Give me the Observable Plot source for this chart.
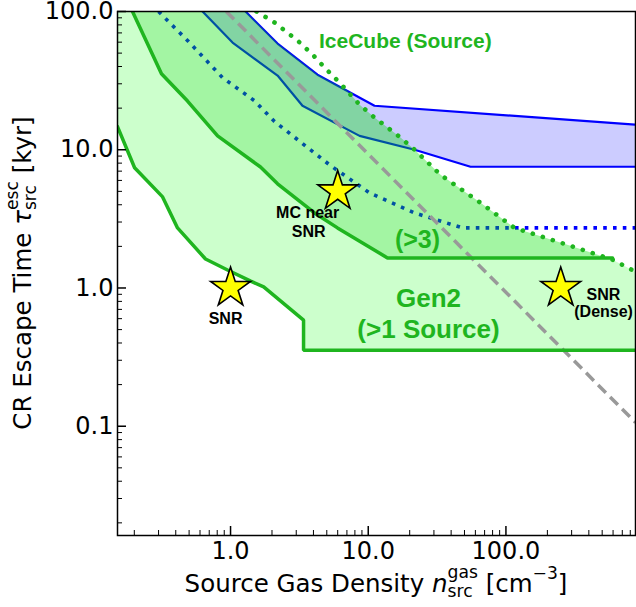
<!DOCTYPE html>
<html><head><meta charset="utf-8">
<script src="https://cdn.jsdelivr.net/npm/d3@7"></script>
<script src="https://cdn.jsdelivr.net/npm/@observablehq/plot@0.6"></script>
<style>body{margin:0;background:#fff} #chart{width:636px;height:607px}</style>
</head><body><div id="chart"></div>
<script>
// ---- data ----
const xDomain = [0.151, 873];
const yDomain = [0.0162, 100];
const xMajor = [1, 10, 100];
const yMajor = [0.1, 1, 10, 100];
const xMinor = [0.2,0.3,0.4,0.5,0.6,0.7,0.8,0.9, 2,3,4,5,6,7,8,9, 20,30,40,50,60,70,80,90, 200,300,400,500,600,700,800];
const yMinor = [0.02,0.03,0.04,0.05,0.06,0.07,0.08,0.09, 0.2,0.3,0.4,0.5,0.6,0.7,0.8,0.9, 2,3,4,5,6,7,8,9, 20,30,40,50,60,70,80,90];

// Gen2 (>1 Source) boundary
const gen2OneX = [0.151, 0.201, 0.321, 0.412, 0.658, 0.951, 1.40, 1.74, 3.39, 3.39, 873];
const gen2OneY = [14.7, 7.41, 4.56, 2.72, 1.62, 1.35, 1.12, 1.02, 0.586, 0.355, 0.355];
// Gen2 (>3) boundary
const gen2ThreeX = [0.194, 0.315, 0.487, 0.805, 1.65, 2.195, 4.07, 5.98, 13.8, 595];
const gen2ThreeY = [100, 35.5, 22.5, 12.6, 7.5, 5.67, 3.49, 2.72, 1.65, 1.65];
// IceCube (Source) dotted limit
const iceX = [1.545, 2.087, 3.066, 3.94, 4.9, 6.19, 8.65, 11.1, 16.9, 21.7, 33.5, 65.4, 115.5, 294, 595, 873];
const iceY = [100, 83.2, 61.6, 48.8, 38.6, 30.6, 21.2, 17.1, 12.4, 10.0, 6.59, 4.13, 2.72, 2.02, 1.60, 1.31];
// upper edge of the green regions
const topX = [1.285, 2.195, 4.28, 6.96, 8.65, 11.1, 16.9, 21.7, 33.5, 65.4, 115.5, 294, 595, 873];
const topY = [100, 58.6, 34.9, 27.2, 21.2, 17.1, 12.4, 10.0, 6.59, 4.13, 2.72, 2.02, 1.60, 1.31];
// blue band
const blueUpX = [1.285, 2.195, 4.28, 11.1, 873];
const blueUpY = [100, 58.6, 34.9, 20.8, 15.2];
const blueLoX = [0.626, 1.034, 2.195, 3.33, 8.65, 21.7, 55.3, 873];
const blueLoY = [100, 59.6, 34.4, 20.8, 12.6, 10.0, 7.53, 7.53];
// blue dotted
const blueDotX = [0.300, 0.495, 0.875, 1.493, 2.087, 5.23, 10.2, 21.7, 48.4, 873];
const blueDotY = [100, 60.6, 33.2, 22.6, 16.0, 7.78, 4.88, 3.49, 2.72, 2.72];
// gray dashed
const grayX = [0.93, 873];
const grayY = [100, 0.1065];
// stars
const starX = [1.0, 6.0, 250];
const starY = [1.0, 5.0, 1.0];
// green labels
const greenText = ["IceCube (Source)", "(>3)", "Gen2", "(>1 Source)"];
const greenTextX = [18.6, 22.8, 27.4, 27.4];
const greenTextY = [61.3, 2.23, 0.837, 0.499];
const greenTextSize = [21, 25, 26, 26];
// black labels
const blackText = ["SNR", "MC near", "SNR", "SNR", "(Dense)"];
const blackTextX = [0.92, 3.63, 3.69, 511, 512];
const blackTextY = [0.597, 3.50, 2.55, 0.885, 0.676];

// ---- chart ----
const W = 636, H = 607, mL = 117, mR = 1, mT = 11, mB = 72;
const innerW = W - mL - mR, innerH = H - mT - mB;
const G = "#1fb51f";
const FS = 24;
const pts = (xs, ys) => xs.map((x, i) => ({x, y: ys[i]}));
const blueBand = [...pts(blueUpX, blueUpY), ...pts(blueLoX, blueLoY).reverse()];
const lightPoly = [...pts(gen2OneX, gen2OneY), ...pts(topX, topY).reverse(), {x: xDomain[0], y: yDomain[1]}];
const xEnd3 = gen2ThreeX[gen2ThreeX.length - 1];
const medPoly = [...pts(gen2ThreeX, gen2ThreeY), ...pts(topX, topY).filter(p => p.x <= xEnd3).reverse()];
const fillOpts = (fill) => ({x: "x", y: "y", fill, fillOpacity: 0.2, stroke: "none", clip: true});

const plot = Plot.plot({
  width: W, height: H,
  marginLeft: mL, marginRight: mR, marginTop: mT, marginBottom: mB,
  style: {fontFamily: "DejaVu Sans", fontSize: FS + "px", background: "white", color: "black"},
  x: {type: "log", domain: xDomain},
  y: {type: "log", domain: yDomain},
  marks: [
    Plot.line(blueBand, fillOpts("#0000ff")),
    Plot.line(pts(blueUpX, blueUpY), {x: "x", y: "y", stroke: "#0000ff", strokeWidth: 2.2, clip: true}),
    Plot.line(pts(blueLoX, blueLoY), {x: "x", y: "y", stroke: "#0000ff", strokeWidth: 2.2, clip: true}),
    Plot.line(pts(blueDotX, blueDotY), {x: "x", y: "y", stroke: "#0000ff", strokeWidth: 3.6, strokeDasharray: "3.6 6.2", strokeLinecap: "butt", clip: true}),
    Plot.line(lightPoly, fillOpts("#00ff00")),
    Plot.line(medPoly, fillOpts("#00cd00")),
    Plot.line(pts(grayX, grayY), {x: "x", y: "y", stroke: "#999999", strokeWidth: 3.5, strokeDasharray: "11 6", strokeLinecap: "butt", clip: true}),
    Plot.line(pts(gen2OneX, gen2OneY), {x: "x", y: "y", stroke: G, strokeWidth: 3.5, strokeLinejoin: "miter", clip: true}),
    Plot.line(pts(gen2ThreeX, gen2ThreeY), {x: "x", y: "y", stroke: G, strokeWidth: 3.5, strokeLinejoin: "miter", clip: true}),
    Plot.line(pts(iceX, iceY), {x: "x", y: "y", stroke: G, strokeWidth: 4.6, strokeDasharray: "0.1 10.4", strokeLinecap: "round", clip: true}),
    Plot.dot(pts(starX, starY), {x: "x", y: "y", symbol: "star", r: 12.5, fill: "#ffff00", stroke: "black", strokeWidth: 1.6}),
    Plot.text(greenText, {x: (d, i) => greenTextX[i], y: (d, i) => greenTextY[i], text: d => d,
      fill: G, fontWeight: "bold", fontFamily: "Liberation Sans", fontSize: (d, i) => greenTextSize[i]}),
    Plot.text(blackText, {x: (d, i) => blackTextX[i], y: (d, i) => blackTextY[i], text: d => d,
      fill: "black", fontWeight: "bold", fontFamily: "Liberation Sans", fontSize: 16}),
    Plot.tickX(xMajor, {x: d => d, stroke: "black", strokeWidth: 1.5, insetTop: innerH - 9}),
    Plot.tickX(xMinor, {x: d => d, stroke: "black", strokeWidth: 1, insetTop: innerH - 5}),
    Plot.tickY(yMajor, {y: d => d, stroke: "black", strokeWidth: 1.5, insetRight: innerW - 9}),
    Plot.tickY(yMinor, {y: d => d, stroke: "black", strokeWidth: 1, insetRight: innerW - 5}),
    Plot.axisX(xMajor, {tickSize: 0, tickPadding: 6, tickFormat: d => d.toFixed(1), fontSize: FS, label: null}),
    Plot.axisY(yMajor, {tickSize: 0, tickPadding: 4, tickFormat: d => d.toFixed(1), fontSize: FS, label: null}),
    Plot.frame({stroke: "black", strokeWidth: 1.5})
  ]
});
document.getElementById("chart").appendChild(plot);

// ---- axis titles with sub/superscripts ----
function mathLabel(parts, cx, cy, rotate, fs) {
  const g = d3.select(plot).append("g")
    .attr("font-family", "DejaVu Sans").attr("font-size", fs).attr("fill", "black")
    .attr("text-anchor", "start");
  const inner = g.append("g");
  let x = 0;
  for (const p of parts) {
    if (p.gap) { x += p.gap * fs; continue; }
    if (p.t != null) {
      const t = inner.append("text").attr("x", x).attr("y", 0).attr("text-anchor", "start").text(p.t);
      if (p.italic) t.attr("font-style", "italic");
      x += t.node().getComputedTextLength();
    } else {
      let w = 0;
      if (p.sup) {
        const t = inner.append("text").attr("x", x).attr("y", -p.supDy * fs).attr("text-anchor", "start").attr("font-size", fs * 0.7).text(p.sup);
        w = Math.max(w, t.node().getComputedTextLength());
      }
      if (p.sub) {
        const t = inner.append("text").attr("x", x).attr("y", p.subDy * fs).attr("text-anchor", "start").attr("font-size", fs * 0.7).text(p.sub);
        w = Math.max(w, t.node().getComputedTextLength());
      }
      x += w;
    }
  }
  inner.attr("transform", `translate(${-x / 2},0)`);
  g.attr("transform", `translate(${cx},${cy}) rotate(${rotate})`);
}
const TFS = 24.5;
mathLabel([{t: "Source Gas Density"}, {gap: 0.318}, {t: "n", italic: true}, {sup: "gas", supDy: 0.56, sub: "src", subDy: 0.22},
  {gap: 0.318}, {t: "[cm"}, {sup: "\u22123", supDy: 0.52}, {t: "]"}], mL + innerW / 2, 591.5, 0, TFS);
mathLabel([{t: "CR Escape Time"}, {gap: 0.318}, {t: "\u03c4", italic: true}, {sup: "esc", supDy: 0.52, sub: "src", subDy: 0.22},
  {gap: 0.318}, {t: "[kyr]"}], 31, mT + innerH / 2, -90, TFS);
</script>
</body></html>
